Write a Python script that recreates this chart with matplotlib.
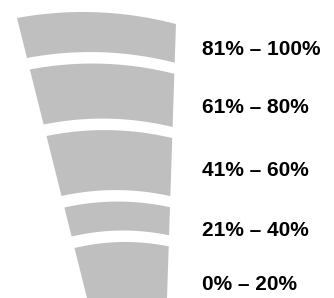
import numpy as np
import matplotlib
matplotlib.use('Agg')
import matplotlib.pyplot as plt
from matplotlib.patches import Polygon

# bands from top to bottom
labels = ['81% – 100%', '61% – 80%', '41% – 60%', '21% – 40%', '0% – 20%']
band_heights = [40, 55, 60, 29, 60]
label_base = [55, 113, 176, 236, 290]   # text baselines (px)

gap = 11.5
top0 = 18
gray = '#bfbfbf'


def left_x(y):
    return 17 + 0.25 * (y - 18)


def right_x(y):
    return 176 - 0.0327 * (y - 23)


def edge(y0, n=60):
    # curved band edge starting at left corner height y0
    y1 = y0 + (6 - 0.033 * (y0 - 18))
    xl, xr = left_x(y0), right_x(y1)
    d = 0.055 * (xr - xl)
    u = np.linspace(0, 1, n)
    xs = xl + u * (xr - xl)
    ys = y0 + u * (y1 - y0) - 4 * d * u * (1 - u)
    return xs, ys


fig = plt.figure(figsize=(3.34, 2.98), dpi=100)
ax = fig.add_axes([0, 0, 1, 1])
ax.set_xlim(0, 334)
ax.set_ylim(298, 0)
ax.axis('off')

y = top0
for h in band_heights:
    xt, yt = edge(y)
    xb, yb = edge(y + h)
    pts = np.column_stack([np.r_[xt, xb[::-1]], np.r_[yt, yb[::-1]]])
    ax.add_patch(Polygon(pts, closed=True, facecolor=gray, edgecolor='none'))
    y += h + gap

for lab, yb in zip(labels, label_base):
    ax.text(202, yb, lab, fontsize=15, fontweight='bold', family='Liberation Sans',
            color='black', ha='left', va='baseline')

fig.savefig('out.png', dpi=100, facecolor='white')
